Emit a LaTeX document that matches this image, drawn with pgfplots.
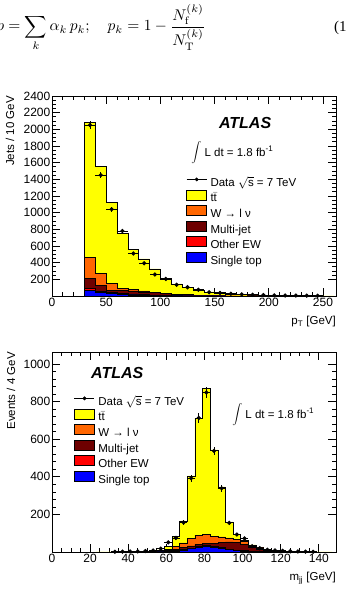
\documentclass[border=0pt]{standalone}
\usepackage[no-math]{fontspec}
\setmainfont{Liberation Sans}
\newfontfamily\seriffont{Liberation Serif}
\usepackage{pgfplots}
\pgfplotsset{compat=1.18}
\definecolor{cTT}{RGB}{255,255,0}
\definecolor{cW}{RGB}{255,102,0}
\definecolor{cMJ}{RGB}{110,0,0}
\definecolor{cEW}{RGB}{255,0,0}
\definecolor{cST}{RGB}{0,0,255}
\pgfplotsset{
  atlasax/.style={
    scale only axis, width=284pt, height=200pt,
    axis line style={line width=0.9pt},
    every tick/.style={black, line width=0.7pt},
    major tick length=8pt, minor tick length=4pt,
    tick align=inside,
    /pgf/number format/assume math mode=true,
    /pgf/number format/1000 sep={},
    scaled ticks=false,
    tick label style={font=\fontsize{12}{14}\selectfont, inner sep=1.5pt},
    label style={font=\fontsize{11.5}{13}\selectfont},
    legend cell align=left,
    legend style={draw=none, fill=none, inner sep=0pt,
      font=\fontsize{11.5}{13}\selectfont,
      nodes={inner sep=0.5pt, text height=9pt, text depth=3pt},
      row sep=-0.2pt,
      /tikz/every odd column/.append style={column sep=3pt}},
  },
  hist/.style={const plot, draw=black, line width=0.5pt, fill=#1},
  boxleg/.style={legend image code/.code={\draw[fill=#1,draw=black,line width=0.5pt] (0pt,-1pt) rectangle (20pt,9pt);}},
  dataleg/.style={legend image code/.code={\draw[black,line width=0.8pt] (0pt,4pt)--(20pt,4pt); \fill[black] (10pt,4pt) circle (1.7pt);}},
  datapts/.style={only marks, mark=*, mark size=1.7pt, black, line width=0.8pt,
    error bars/.cd, x dir=both, x explicit, y dir=both, y explicit, error mark=none,
    error bar style={line width=0.8pt}},
}
\begin{document}
\begin{tikzpicture}
\useasboundingbox (0pt,0pt) rectangle (346pt,-591pt);
% equation from the page above the figure
\node[anchor=base west, scale=1.55, inner sep=0pt] at (-4pt,-31pt)
  {$\displaystyle p = \sum_k \alpha_k\, p_k;\quad p_k = 1-\frac{N_{\mathrm{f}}^{(k)}}{N_{\mathrm{T}}^{(k)}}$};
\node[anchor=base west, inner sep=0pt, font=\seriffont\fontsize{15}{18}\selectfont] at (334pt,-32pt) {(1)};

% ---------------- top: jet pT ----------------
\begin{axis}[atlasax,
  at={(52pt,-296pt)}, anchor=south west,
  xmin=0, xmax=262, ymin=0, ymax=2400,
  xtick={0,50,...,250}, minor x tick num=4,
  ytick={200,400,...,2400}, minor y tick num=3,
  xlabel={p\textsubscript{T} [GeV]},
  ylabel={Jets / 10 GeV},
  xlabel style={at={(axis description cs:1,-0.128)}, anchor=east, inner sep=0pt},
  ylabel style={at={(axis description cs:-0.148,1)}, anchor=east, inner sep=0pt},
  legend style={at={(axis description cs:0.472,0.5965)}, anchor=north west},
]
\addplot[hist=cTT, forget plot] coordinates {(30,2080)(40,1560)(50,1120)(60,750)(70,560)(80,445)(90,325)(100,210)(110,145)(120,105)(130,70)(140,50)(150,35)(160,25)(170,18)(180,13)(190,10)(200,7)(210,5)(220,4)(230,3)(240,2)(250,2)(260,2)} \closedcycle;
\addplot[hist=cW, forget plot] coordinates {(30,460)(40,275)(50,150)(60,95)(70,78)(80,62)(90,48)(100,35)(110,24)(120,16)(130,10)(140,7)(150,5)(160,3)(170,2)(180,1)(190,1)(200,0.5)(210,0.5)} \closedcycle;
\addplot[hist=cMJ, forget plot] coordinates {(30,210)(40,130)(50,72)(60,65)(70,62)(80,50)(90,40)(100,28)(110,18)(120,12)(130,8)(140,5)(150,3)(160,2)(170,1)(180,1)(190,0.5)(200,0.5)} \closedcycle;
\addplot[hist=cEW, forget plot] coordinates {(30,90)(40,55)(50,40)(60,30)(70,22)(80,16)(90,11)(100,8)(110,5)(120,3)(130,2)(140,1.5)(150,1)(160,0.5)(170,0.5)} \closedcycle;
\addplot[hist=cST, forget plot] coordinates {(30,70)(40,40)(50,28)(60,20)(70,15)(80,10)(90,7)(100,5)(110,3)(120,2)(130,1)(140,1)(150,0.5)(160,0.5)} \closedcycle;
\addplot[forget plot, datapts] table[x=x, y=y, x error=ex, y error=ey] {
x y ex ey
35 2050 5 45.3
45 1450 5 38.1
55 1040 5 32.2
65 780 5 27.9
75 510 5 22.6
85 392 5 19.8
95 258 5 16.1
105 205 5 14.3
115 135 5 11.6
125 105 5 10.2
135 75 5 8.7
145 45 5 6.7
155 38 5 6.2
165 28 5 5.3
175 20 5 4.5
185 15 5 3.9
195 11 5 3.3
205 8 5 2.8
215 6 5 2.4
225 5 5 2.2
235 4 5 2.0
245 3 5 1.7
};
\addlegendimage{dataleg}
\addlegendentry{Data $\sqrt{\mbox{s}}$ = 7 TeV}
\addlegendimage{boxleg=cTT}
\addlegendentry{t$\bar{\mbox{t}}$}
\addlegendimage{boxleg=cW}
\addlegendentry{W → l ν}
\addlegendimage{boxleg=cMJ}
\addlegendentry{Multi-jet}
\addlegendimage{boxleg=cEW}
\addlegendentry{Other EW}
\addlegendimage{boxleg=cST}
\addlegendentry{Single top}
\node[font=\fontsize{16}{18}\selectfont\bfseries\itshape] at (axis description cs:0.68,0.865) {ATLAS};
\node[anchor=west, inner sep=0pt, font=\fontsize{11.5}{13}\selectfont] at (axis description cs:0.49,0.715) {$\displaystyle\int$ L dt = 1.8 fb\textsuperscript{-1}};
\end{axis}

% ---------------- bottom: mjj ----------------
\begin{axis}[atlasax,
  at={(52pt,-552pt)}, anchor=south west,
  xmin=0, xmax=149, ymin=0, ymax=1064,
  xtick={0,20,...,140}, minor x tick num=3,
  ytick={200,400,...,1000}, minor y tick num=4,
  xlabel={m\textsubscript{jj} [GeV]},
  ylabel={Events / 4 GeV},
  xlabel style={at={(axis description cs:1,-0.1315)}, anchor=east, inner sep=0pt},
  ylabel style={at={(axis description cs:-0.144,1)}, anchor=east, inner sep=0pt},
  legend style={at={(axis description cs:0.077,0.7815)}, anchor=north west},
]
\addplot[hist=cTT, forget plot] coordinates {(23,0.5)(27,0.5)(31,1)(35,2)(39,3)(43,3)(47,5)(51,7)(55,12)(59,28)(63,82)(67,165)(71,405)(75,712)(79,872)(83,543)(87,347)(91,160)(95,95)(99,62)(103,38)(107,24)(111,14)(115,9)(119,6)(123,4)(127,3)(131,2)(135,1)(139,1)(143,0.5)(147,0.5)} \closedcycle;
\addplot[hist=cW, forget plot] coordinates {(47,2)(51,4)(55,9)(59,16)(63,28)(67,48)(71,72)(75,90)(79,94)(83,85)(87,80)(91,75)(95,68)(99,55)(103,35)(107,22)(111,12)(115,7)(119,4)(123,2)(127,1)(131,1)(135,1)} \closedcycle;
\addplot[hist=cMJ, forget plot] coordinates {(47,1)(51,2)(55,5)(59,9)(63,15)(67,24)(71,33)(75,40)(79,44)(83,46)(87,50)(91,54)(95,52)(99,40)(103,25)(107,15)(111,8)(115,4)(119,2)(123,1)(127,1)(131,1)} \closedcycle;
\addplot[hist=cEW, forget plot] coordinates {(55,2)(59,4)(63,7)(67,13)(71,22)(75,29)(79,34)(83,30)(87,24)(91,16)(95,10)(99,7)(103,4)(107,3)(111,2)(115,2)(119,2)} \closedcycle;
\addplot[hist=cST, forget plot] coordinates {(55,1)(59,3)(63,5)(67,10)(71,18)(75,25)(79,30)(83,26)(87,20)(91,13)(95,8)(99,5)(103,3)(107,2)(111,2)(115,2)} \closedcycle;
\addplot[forget plot, datapts] table[x=x, y=y, x error=ex, y error=ey] {
x y ex ey
33 1 2 1.0
37 2 2 1.4
41 3 2 1.7
45 3 2 1.7
49 5 2 2.2
53 8 2 2.8
57 18 2 4.2
61 51 2 7.1
65 75 2 8.7
69 157 2 12.5
73 392 2 19.8
77 713 2 26.7
81 849 2 29.1
85 538 2 23.2
89 339 2 18.4
93 155 2 12.4
97 93 2 9.6
101 72 2 8.5
105 31 2 5.6
109 20 2 4.5
113 12 2 3.5
117 8 2 2.8
121 6 2 2.4
125 4 2 2.0
129 3 2 1.7
133 2 2 1.4
137 1 2 1.0
};
\addlegendimage{dataleg}
\addlegendentry{Data $\sqrt{\mbox{s}}$ = 7 TeV}
\addlegendimage{boxleg=cTT}
\addlegendentry{t$\bar{\mbox{t}}$}
\addlegendimage{boxleg=cW}
\addlegendentry{W → l ν}
\addlegendimage{boxleg=cMJ}
\addlegendentry{Multi-jet}
\addlegendimage{boxleg=cEW}
\addlegendentry{Other EW}
\addlegendimage{boxleg=cST}
\addlegendentry{Single top}
\node[font=\fontsize{16}{18}\selectfont\bfseries\itshape] at (axis description cs:0.23,0.8935) {ATLAS};
\node[anchor=west, inner sep=0pt, font=\fontsize{11.5}{13}\selectfont] at (axis description cs:0.634,0.685) {$\displaystyle\int$ L dt = 1.8 fb\textsuperscript{-1}};
\end{axis}
\end{tikzpicture}
\end{document}
